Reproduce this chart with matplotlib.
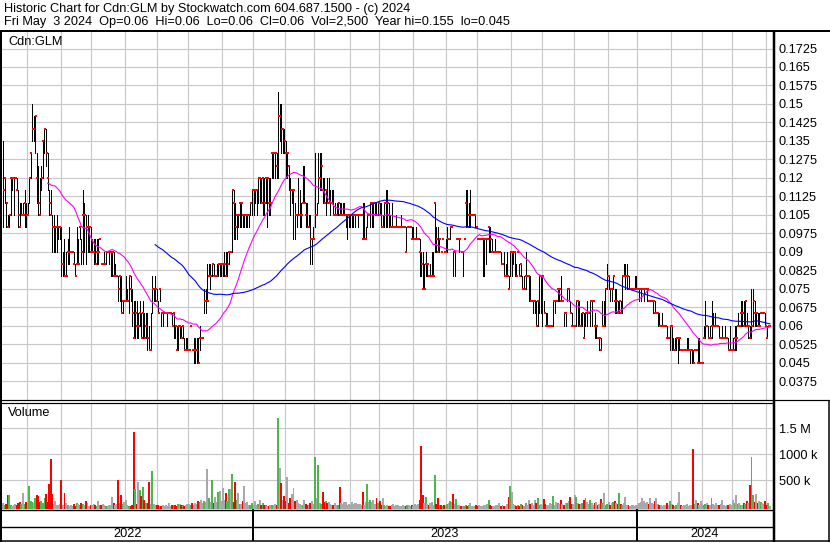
"""Historic price / volume chart for Cdn:GLM in the Stockwatch style."""

import matplotlib
matplotlib.use("Agg")
import matplotlib.pyplot as plt
from matplotlib.lines import Line2D
import numpy as np
import pandas as pd

plt.rcParams["font.family"] = ["Liberation Sans", "DejaVu Sans"]

TITLE = "Historic Chart for Cdn:GLM by Stockwatch.com 604.687.1500 - (c) 2024"
SUBTITLE = ("Fri May  3 2024  Op=0.06  Hi=0.06  Lo=0.06  Cl=0.06  Vol=2,500  "
            "Year hi=0.155  lo=0.045")
SYMBOL = "Cdn:GLM"

FIRST_DAY = "2022-05-09"
LAST_DAY = "2024-05-03"
HOLIDAYS = ["2022-05-23", "2022-07-01", "2022-08-01", "2022-09-05", "2022-10-10",
            "2022-12-26", "2022-12-27", "2023-01-02", "2023-02-20", "2023-04-07",
            "2023-05-22", "2023-07-03", "2023-08-07", "2023-09-04", "2023-10-09",
            "2023-12-25", "2023-12-26", "2024-01-01", "2024-02-19", "2024-03-29"]

# daily prices in cents, one row = 20 trading days
CLOSE = [
    11.5, 12, 11, 10, 10.5, 12, 12, 12, 12, 11.5, 10.5, 10, 10.5, 10.5, 11, 10.5, 10.5, 12, 13, 14,
    14, 14.5, 12, 11, 10.5, 12, 13.5, 14, 13, 12, 11, 10.5, 10, 10, 10, 10, 10, 10, 8.5, 8.5,
    8, 8, 9, 9, 9, 9, 8.5, 8, 8.5, 8.5, 10, 9, 10.5, 10.5, 10, 10, 10, 9, 9, 9,
    8.5, 9, 9, 9.5, 8.5, 8.5, 8.5, 9, 9, 9, 9, 9, 8, 8, 8, 7.5, 8, 6.5, 7, 7,
    7, 7, 8, 7.5, 6.5, 5.5, 6.5, 6, 6, 6.5, 5.5, 6.5, 5.5, 6, 5.5, 5, 5, 7.5, 7.5, 7.5,
    7, 6.5, 7.5, 6.5, 6.5, 6.5, 6.5, 6.5, 6.5, 6.5, 6, 6.5, 6, 5, 6, 6, 5.5, 6, 5, 5,
    5, 5, 6, 5, 5, 5, 5, 4.5, 5.5, 5.5, 5.5, 7, 7, 7, 8, 8, 8.5, 8, 8, 8,
    8.5, 8.5, 8.5, 8.5, 8.5, 8, 8.5, 9, 9, 11.5, 11, 10, 10.5, 10.5, 11, 11, 10.5, 10.5, 10.5, 10.5,
    10.5, 11, 11.5, 11.5, 11.5, 11.5, 12, 12, 11, 12, 11, 12, 12, 11, 11, 13, 13, 13, 12.5, 14.5,
    14.5, 14, 14, 13.5, 13, 13, 12.5, 11.5, 11.5, 11.5, 10.5, 10.5, 10.5, 10.5, 10.5, 11, 11, 10.5, 10, 10,
    9.5, 9.5, 9.5, 10.5, 10.5, 12, 12, 12.5, 11.5, 11, 11.5, 11, 11, 11, 11, 10.5, 10.5, 10.5, 11, 10.5,
    10.5, 10.5, 10.5, 10.5, 10.5, 10.5, 10.5, 10.5, 10.5, 10.5, 10.5, 10.5, 10.5, 10.5, 9.5, 9.5, 9.5, 10.5, 10.5, 11,
    11, 11, 11, 10.5, 11, 10.5, 10, 10, 11, 11, 11, 10.5, 10, 10, 10, 10, 10, 10, 10, 10,
    10, 10, 9, 10, 10, 10, 9.5, 9.5, 9.5, 9.5, 9.5, 9, 8.5, 7.5, 7.5, 8.5, 8.5, 8, 8, 8,
    8, 11, 9.5, 9, 9.5, 9, 9.5, 9, 9, 9.5, 9.5, 10, 10, 9, 9, 9.5, 9.5, 9.5, 9, 9,
    9.5, 11, 10, 10.5, 10.5, 10.5, 10.5, 10.5, 10, 9.5, 9.5, 9.5, 9.5, 9.5, 9.5, 9.5, 10, 9.5, 9, 9,
    9, 9, 9, 9, 8.5, 8.5, 8, 8, 8, 7.5, 9, 9, 9, 9, 8, 9, 8, 8.5, 7.5, 7.5,
    8, 8, 8, 7, 7, 7, 7, 6, 7, 8, 8, 8, 6.5, 6, 6, 6, 6, 6, 7, 7,
    7, 7.5, 7.5, 7, 7, 6.5, 6.5, 7.5, 7.5, 6.5, 6, 6, 6, 7, 7, 6, 6, 6.5, 5.5, 6.5,
    6.5, 6.5, 7, 7, 7, 6, 6, 5.5, 5.5, 5, 6, 6, 7.5, 8, 8, 7.5, 7.5, 8, 7, 7,
    6.5, 7, 6.5, 8, 8, 8, 8, 7.5, 7.5, 7.5, 7.5, 7.5, 7.5, 7.5, 7.5, 7.5, 7.5, 7.5, 7.5, 7.5,
    7, 7, 7, 7, 6.5, 6.5, 6.5, 6, 6, 6, 6, 6, 5.5, 5.5, 6, 6, 5, 5, 5.5, 5.5,
    5.5, 5, 5, 5, 5, 5, 5, 5, 5, 4.5, 5, 5, 4.5, 4.5, 4.5, 4.5, 5.5, 6, 6, 5.5,
    5.5, 6, 6, 6, 6, 6, 5.5, 5.5, 5.5, 5.5, 5.5, 5.5, 5, 5, 5, 5, 5.5, 5.5, 6, 6,
    6.5, 6.5, 6, 7, 6, 6, 5.5, 6, 7, 6.5, 6.5, 6, 6, 6.5, 6.5, 6.5, 6, 5.5, 6, 6,
]
LOW = [
    10, 11, 10, 10, 10, 10.5, 11.5, 10.5, 12, 11.5, 10, 10, 10.5, 10.5, 10, 10, 10.5, 11, 12, 13.5,
    13.5, 13, 11, 10.5, 10.5, 11.5, 12, 13, 12.5, 11.5, 10.5, 10.5, 9, 9, 9, 9, 9.5, 9.5, 8, 8,
    8, 8, 8.5, 8.5, 9, 9, 8.5, 8, 8.5, 8.5, 9.5, 8.5, 8.5, 9, 8.5, 9, 9, 9, 9, 8.5,
    8.5, 8.5, 8.5, 9.5, 8.5, 8.5, 8.5, 8.5, 9, 8.5, 8, 8, 8, 8, 8, 7, 7, 6.5, 6.5, 7,
    7, 7, 6.5, 7, 6, 5.5, 5.5, 5.5, 5.5, 6, 5.5, 5.5, 5.5, 5.5, 5, 5, 5, 6.5, 7, 7,
    7, 6.5, 7, 6, 6, 6.5, 6.5, 6, 6.5, 6.5, 6, 5.5, 5.5, 5, 5, 5.5, 5.5, 5.5, 5, 5,
    5, 5, 6, 5, 4.5, 4.5, 4.5, 4.5, 5, 5.5, 5.5, 6.5, 6.5, 7, 8, 7.5, 8, 8, 8, 8,
    8, 8, 8, 8, 8, 8, 8, 8.5, 9, 9, 9.5, 9.5, 9.5, 10, 10, 10, 10, 10, 10, 10,
    10, 10.5, 10.5, 10.5, 11, 10.5, 11, 11, 11, 10.5, 10.5, 11, 10, 10.5, 10.5, 12, 12, 12, 12, 12,
    13.5, 13, 13, 13, 12, 12, 11.5, 10.5, 11, 9.5, 9.5, 10, 10.5, 10, 10, 11, 11, 10, 10, 10,
    8.5, 8.5, 9.5, 10, 10.5, 11, 11.5, 11.5, 11, 11, 10.5, 11, 11, 10.5, 11, 10.5, 10.5, 10.5, 10.5, 10.5,
    10.5, 10.5, 10.5, 10, 9.5, 10, 10, 10, 10, 10, 10.5, 10, 10.5, 10.5, 9.5, 9.5, 9.5, 10, 10.5, 10,
    10, 10, 10.5, 10.5, 10.5, 10.5, 10, 10, 10, 10, 10, 10, 10, 10, 10, 10, 10, 10, 10, 10,
    10, 10, 9, 10, 10, 10, 9.5, 9.5, 9.5, 9.5, 9.5, 8, 8, 7.5, 7.5, 8, 8, 8, 8, 8,
    8, 9, 9, 9, 9, 9, 9.5, 9, 9, 9, 9.5, 9.5, 10, 8, 8, 9.5, 9.5, 9, 9, 8,
    9.5, 10, 10, 10, 10, 10.5, 10.5, 10, 10, 9.5, 9.5, 9.5, 8, 8, 8.5, 9.5, 9, 9, 9, 9,
    9, 9, 9, 9, 8.5, 8.5, 8, 8, 8, 7.5, 8, 8, 8.5, 8, 8, 9, 8, 8, 7.5, 7.5,
    7.5, 8, 7, 7, 7, 6.5, 6.5, 6, 6, 6.5, 6.5, 6, 6.5, 6, 6, 6, 6, 6, 6, 6.5,
    7, 7, 7, 7, 7, 6, 6, 7, 7, 6.5, 6, 6, 6, 6, 6, 6, 6, 6, 5.5, 6,
    6, 6.5, 6, 6, 7, 5.5, 5.5, 5.5, 5, 5, 6, 6, 6, 7.5, 7.5, 7, 7, 7.5, 6.5, 6.5,
    6.5, 6.5, 6.5, 6.5, 8, 7.5, 7.5, 7.5, 7.5, 7.5, 7.5, 7.5, 7.5, 7.5, 7, 7, 7.5, 7, 7.5, 7,
    7, 7, 7, 6.5, 6.5, 6.5, 6, 6, 6, 6, 6, 6, 5.5, 5.5, 5, 5, 5, 5, 5, 4.5,
    5, 5, 5, 5, 5, 5, 5, 4.5, 4.5, 4.5, 5, 5, 4.5, 4.5, 4.5, 4.5, 5.5, 5.5, 6, 5.5,
    5.5, 5.5, 6, 6, 6, 6, 5.5, 5.5, 5.5, 5.5, 5.5, 5.5, 5, 5, 5, 5, 5, 5, 6, 6,
    6, 6, 6, 6, 6, 5.5, 5.5, 5.5, 6, 6, 6, 6, 6, 6.5, 6.5, 6.5, 6, 5.5, 6, 6,
]
HIGH = [
    13.5, 12, 11, 10.5, 10.5, 12, 12, 12, 12, 12, 11.5, 11, 11, 11, 11.5, 11, 11, 12, 13, 15,
    14.5, 14.5, 13, 12.5, 12, 12.5, 13.5, 14, 14, 13, 11.5, 11.5, 10.5, 10.5, 10, 10.5, 10, 10, 10, 9,
    9.5, 9, 9.5, 10, 9, 9, 9, 8.5, 10, 9.5, 10, 9.5, 11.5, 11, 10.5, 10.5, 10, 10, 9.5, 9.5,
    9.5, 9.5, 9.5, 9.5, 8.5, 8.5, 9, 9, 9, 9, 9, 9, 9, 8.5, 8, 8, 8, 8, 7, 7,
    8, 7.5, 8, 8, 7.5, 7, 7, 7, 6.5, 7, 6.5, 7, 6.5, 6.5, 6.5, 6, 6.5, 8, 7.5, 8,
    7.5, 7, 7.5, 6.5, 6.5, 6.5, 6.5, 6.5, 6.5, 6.5, 6.5, 6.5, 6, 6, 6, 6, 6, 6, 5.5, 5.5,
    5.5, 5, 6, 5, 5.5, 5.5, 5.5, 5.5, 6, 5.5, 5.5, 7.5, 7.5, 8.5, 8.5, 8.5, 8.5, 8.5, 8, 8.5,
    8.5, 8.5, 8.5, 8.5, 9, 9, 9, 9, 9, 11.5, 11.5, 11, 10.5, 10.5, 11, 11, 10.5, 10.5, 10.5, 10.5,
    10.5, 11, 11.5, 11.5, 11.5, 11.5, 12, 12, 12, 12, 12, 12, 12, 12, 12, 13, 13, 13, 13, 15.5,
    15, 15, 14, 14, 13.5, 13, 12.5, 12, 11.5, 11.5, 11, 10.5, 12, 11.5, 11, 12.5, 12.5, 11, 11, 10.5,
    10.5, 9.5, 10, 13, 11, 13, 13, 13, 12, 12, 11.5, 12, 12, 11.5, 11.5, 11.5, 11, 11, 11, 11,
    11, 11, 11, 10.5, 10.5, 10.5, 10.5, 10.5, 10.5, 10.5, 10.5, 10.5, 10.5, 10.5, 11, 11, 10, 10.5, 10.5, 11,
    11, 11, 11, 11, 11, 11, 11, 10.5, 11, 11.5, 11.5, 11, 10.5, 11, 10, 10, 10.5, 10, 10, 10.5,
    10, 10, 10, 10, 10, 10, 10, 10, 9.5, 10, 9.5, 9.5, 9, 9, 8.5, 9, 8.5, 8, 8.5, 9,
    9, 11, 10, 10, 9.5, 9, 9.5, 9, 9.5, 10, 9.5, 10, 10, 9, 9, 9.5, 9.5, 9.5, 9, 9,
    9.5, 11.5, 11.5, 11, 11.5, 10.5, 10.5, 10.5, 10, 9.5, 9.5, 9.5, 9.5, 9.5, 9.5, 9.5, 10, 10, 9.5, 9,
    9.5, 9, 9, 9, 9, 8.5, 9, 8.5, 9, 8, 9, 9, 9, 9, 8.5, 9, 8.5, 8.5, 8, 8,
    9, 8, 8, 8, 7, 7, 7, 7, 7, 8, 8, 8, 7, 6.5, 6.5, 6, 6, 6, 7, 7,
    7, 7.5, 7.5, 8, 7, 6.5, 6.5, 7.5, 7.5, 7, 6.5, 6, 6, 7, 7, 7, 6.5, 6.5, 6.5, 6.5,
    7, 6.5, 7, 7, 7, 6.5, 6, 5.5, 5.5, 5.5, 7, 7, 7.5, 8.5, 8, 7.5, 7.5, 8, 7.5, 7.5,
    7, 7, 7, 8, 8.5, 8.5, 8.5, 8, 7.5, 7.5, 7.5, 8, 8, 7.5, 7.5, 7.5, 7.5, 7.5, 7.5, 7.5,
    7, 7, 7, 7, 7, 6.5, 6.5, 6.5, 6, 6.5, 6, 6, 6, 5.5, 6, 6, 5.5, 5.5, 5.5, 5.5,
    5.5, 5, 5, 5, 5, 5.5, 5.5, 5, 5, 5, 5, 5, 5.5, 5.5, 4.5, 4.5, 6, 7, 6, 6,
    6, 7, 6.5, 6.5, 6, 6, 6, 5.5, 6, 5.5, 6, 5.5, 5.5, 6, 5, 5.5, 6, 6, 6.5, 6,
    7, 7, 7, 7, 6.5, 6, 6, 7.5, 7.5, 7, 6.5, 6.5, 6.5, 6.5, 6.5, 6.5, 6.5, 6, 6, 6,
]
# daily volume, thousands of shares
VOLUME = [
    60, 25, 40, 212, 212, 30, 15, 20, 45, 30, 60, 80, 40, 250, 45, 90, 60, 385, 110, 90,
    60, 150, 212, 200, 90, 100, 60, 150, 230, 80, 436, 904, 230, 40, 110, 30, 20, 40, 500, 25,
    263, 60, 20, 10, 30, 15, 40, 10, 60, 40, 30, 70, 45, 20, 100, 60, 15, 30, 20, 40,
    30, 15, 100, 30, 20, 40, 30, 15, 10, 30, 20, 170, 70, 20, 40, 513, 60, 212, 50, 90,
    120, 20, 10, 15, 30, 1430, 327, 40, 461, 308, 200, 372, 120, 60, 60, 474, 40, 673, 50, 30,
    20, 30, 10, 15, 20, 10, 30, 15, 60, 10, 20, 30, 20, 15, 40, 50, 30, 20, 10, 30,
    40, 50, 20, 60, 30, 70, 50, 100, 80, 120, 70, 110, 90, 711, 150, 90, 513, 60, 180, 90,
    280, 295, 100, 350, 130, 250, 100, 330, 330, 615, 90, 474, 130, 260, 50, 40, 100, 385, 60, 80,
    30, 20, 60, 20, 100, 30, 40, 120, 20, 60, 30, 20, 10, 15, 20, 30, 20, 40, 20, 1692,
    730, 442, 130, 200, 100, 558, 60, 150, 230, 352, 100, 130, 60, 40, 20, 30, 120, 40, 20, 30,
    60, 100, 50, 942, 150, 788, 60, 40, 282, 80, 100, 60, 90, 40, 30, 20, 60, 30, 20, 365,
    60, 40, 80, 90, 20, 40, 30, 90, 40, 70, 60, 50, 40, 20, 282, 30, 80, 423, 90, 115,
    90, 120, 40, 150, 60, 100, 30, 160, 20, 10, 30, 15, 10, 20, 40, 10, 20, 30, 15, 10,
    20, 15, 10, 20, 30, 10, 20, 15, 40, 30, 50, 120, 1154, 212, 60, 180, 40, 20, 60, 90,
    30, 596, 40, 150, 20, 20, 10, 30, 20, 50, 70, 100, 90, 230, 40, 135, 20, 20, 10, 10,
    15, 20, 10, 20, 60, 10, 10, 15, 20, 10, 20, 10, 5, 30, 20, 40, 130, 20, 10, 15,
    10, 20, 30, 60, 10, 20, 15, 10, 40, 180, 385, 270, 40, 20, 10, 20, 10, 40, 20, 10,
    60, 30, 115, 40, 70, 20, 130, 60, 155, 20, 40, 30, 135, 40, 20, 30, 60, 40, 192, 30,
    90, 60, 40, 130, 40, 20, 60, 70, 100, 180, 50, 40, 212, 180, 60, 50, 40, 60, 115, 150,
    80, 40, 130, 60, 30, 60, 90, 20, 40, 135, 60, 250, 30, 40, 80, 20, 60, 90, 100, 60,
    40, 250, 50, 30, 60, 180, 30, 20, 10, 30, 20, 10, 20, 30, 60, 90, 150, 100, 60, 90,
    40, 150, 60, 40, 100, 165, 50, 30, 20, 10, 20, 30, 60, 30, 100, 50, 20, 10, 20, 60,
    270, 20, 10, 30, 20, 40, 10, 20, 30, 1096, 40, 115, 60, 30, 100, 50, 20, 40, 60, 30,
    20, 150, 40, 20, 60, 30, 20, 40, 130, 20, 10, 30, 20, 40, 20, 130, 60, 212, 40, 60,
    30, 20, 70, 40, 100, 60, 404, 942, 218, 90, 230, 60, 100, 80, 70, 40, 100, 30, 70, 2.5,
]

PRICE_TICKS = [0.0375, 0.045, 0.0525, 0.06, 0.0675, 0.075, 0.0825, 0.09, 0.0975, 0.105,
               0.1125, 0.12, 0.1275, 0.135, 0.1425, 0.15, 0.1575, 0.165, 0.1725]
PRICE_LABELS = ["0.0375", "0.045", "0.0525", "0.06", "0.0675", "0.075", "0.0825", "0.09",
                "0.0975", "0.105", "0.1125", "0.12", "0.1275", "0.135", "0.1425", "0.15",
                "0.1575", "0.165", "0.1725"]
VOL_TICKS = [500, 1000, 1500]
VOL_LABELS = ["500 k", "1000 k", "1.5 M"]
MA_SHORT, MA_LONG = 30, 100

W, H = 830, 543
GRID = "#c8c8c8"
UP, DOWN, FLAT = "#4cb84c", "#ff0000", "#a8a8a8"
FS = 9.2
VOL_FLOOR = -52


def fx(px):
    return px / W


def fy(py):
    return 1 - py / H


def fig_line(fig, xs, ys, width):
    fig.add_artist(Line2D([fx(x) for x in xs], [fy(y) for y in ys], color="black",
                          lw=width * 0.72, solid_capstyle="butt"))


def style_panel(ax, n, months):
    ax.set_facecolor("white")
    for s in ax.spines.values():
        s.set_visible(False)
    ax.set_xlim(-0.65, n + 1.0)
    ax.set_xticks(months - 0.5)
    ax.grid(True, color=GRID, lw=0.8)
    ax.set_axisbelow(True)
    ax.yaxis.tick_right()
    ax.tick_params(axis="x", length=0, labelbottom=False)
    ax.tick_params(axis="y", length=0, pad=4.3, labelsize=FS)


def main():
    close = np.array(CLOSE) / 100
    low = np.minimum(np.array(LOW) / 100, close)
    high = np.maximum(np.array(HIGH) / 100, close)
    vol = np.array(VOLUME, dtype=float)
    n = len(close)
    idx = np.arange(n)

    days = pd.bdate_range(FIRST_DAY, LAST_DAY, freq="C", holidays=HOLIDAYS)[-n:]
    mon = days.year * 12 + days.month
    months = np.flatnonzero(np.diff(mon)) + 1
    years = np.flatnonzero(np.diff(days.year)) + 1

    fig = plt.figure(figsize=(W / 100, H / 100), dpi=100)
    fig.patch.set_facecolor("white")

    # price panel
    ax_p = fig.add_axes([fx(2), fy(400), (773 - 2) / W, (400 - 32) / H])
    style_panel(ax_p, n, months)
    ax_p.set_ylim(0.02986, 0.1792)
    ax_p.set_yticks(PRICE_TICKS)
    ax_p.set_yticklabels(PRICE_LABELS)
    ax_p.vlines(idx, low, high, colors="black", lw=0.6, antialiased=False, zorder=2)
    ax_p.scatter(idx + 0.35, close, marker="s", s=2.4, c="#ff0000", linewidths=0, zorder=3)
    ma_s = pd.Series(close).rolling(MA_SHORT).mean()
    ma_l = pd.Series(close).rolling(MA_LONG).mean()
    ax_p.plot(idx, ma_s, color="#ff00ff", lw=0.8, zorder=4)
    ax_p.plot(idx, ma_l, color="#0000ff", lw=0.8, zorder=4)

    # volume panel
    ax_v = fig.add_axes([fx(2), fy(509), (773 - 2) / W, (509 - 403) / H])
    style_panel(ax_v, n, months)
    ax_v.set_ylim(VOL_FLOOR, 1987)
    ax_v.set_yticks(VOL_TICKS)
    ax_v.set_yticklabels(VOL_LABELS)
    change = np.diff(close, prepend=close[0])
    colors = np.where(change > 0, UP, np.where(change < 0, DOWN, FLAT))
    ax_v.bar(idx, vol - VOL_FLOOR, bottom=VOL_FLOOR, width=1.25, color=colors,
             linewidth=0, antialiased=False, zorder=2)

    # date band
    ax_d = fig.add_axes([fx(2), fy(541), (773 - 2) / W, (541 - 509) / H])
    ax_d.set_axis_off()
    ax_d.set_xlim(-0.65, n + 1.0)
    ax_d.set_ylim(0, 1)
    for b in years:
        ax_d.axvline(b - 0.5, color="black", lw=1.4)
    edges = [-0.65] + [b - 0.5 for b in years] + [n + 1.0]
    labels = [days[0].year] + [days[b].year for b in years]
    for a, b, yr in zip(edges[:-1], edges[1:], labels):
        ax_d.text((a + b) / 2, 0.22, str(yr), ha="center", va="center", fontsize=FS)

    # texts
    fig.text(fx(4), fy(9), TITLE, ha="left", va="center", fontsize=FS)
    fig.text(fx(4), fy(22.5), SUBTITLE, ha="left", va="center", fontsize=FS)
    fig.text(fx(8), fy(42), SYMBOL, ha="left", va="center", fontsize=FS)
    fig.text(fx(8), fy(413), "Volume", ha="left", va="center", fontsize=FS)

    # frame lines
    fig_line(fig, [0, W], [31, 31], 2)
    fig_line(fig, [1, 1], [31, 542], 2)
    fig_line(fig, [774, 774], [31, 542], 2.5)
    fig_line(fig, [0, W], [400, 400], 1.2)
    fig_line(fig, [0, 774], [402.5, 402.5], 1.2)
    fig_line(fig, [0, 774], [509.5, 509.5], 1.4)
    fig_line(fig, [0, 774], [527, 527], 1.4)
    fig_line(fig, [0, W], [541, 541], 1.5)
    fig_line(fig, [829, 829], [400, 542], 1.5)

    fig.savefig("out.png", dpi=100, facecolor="white")
    plt.close(fig)


if __name__ == "__main__":
    main()
